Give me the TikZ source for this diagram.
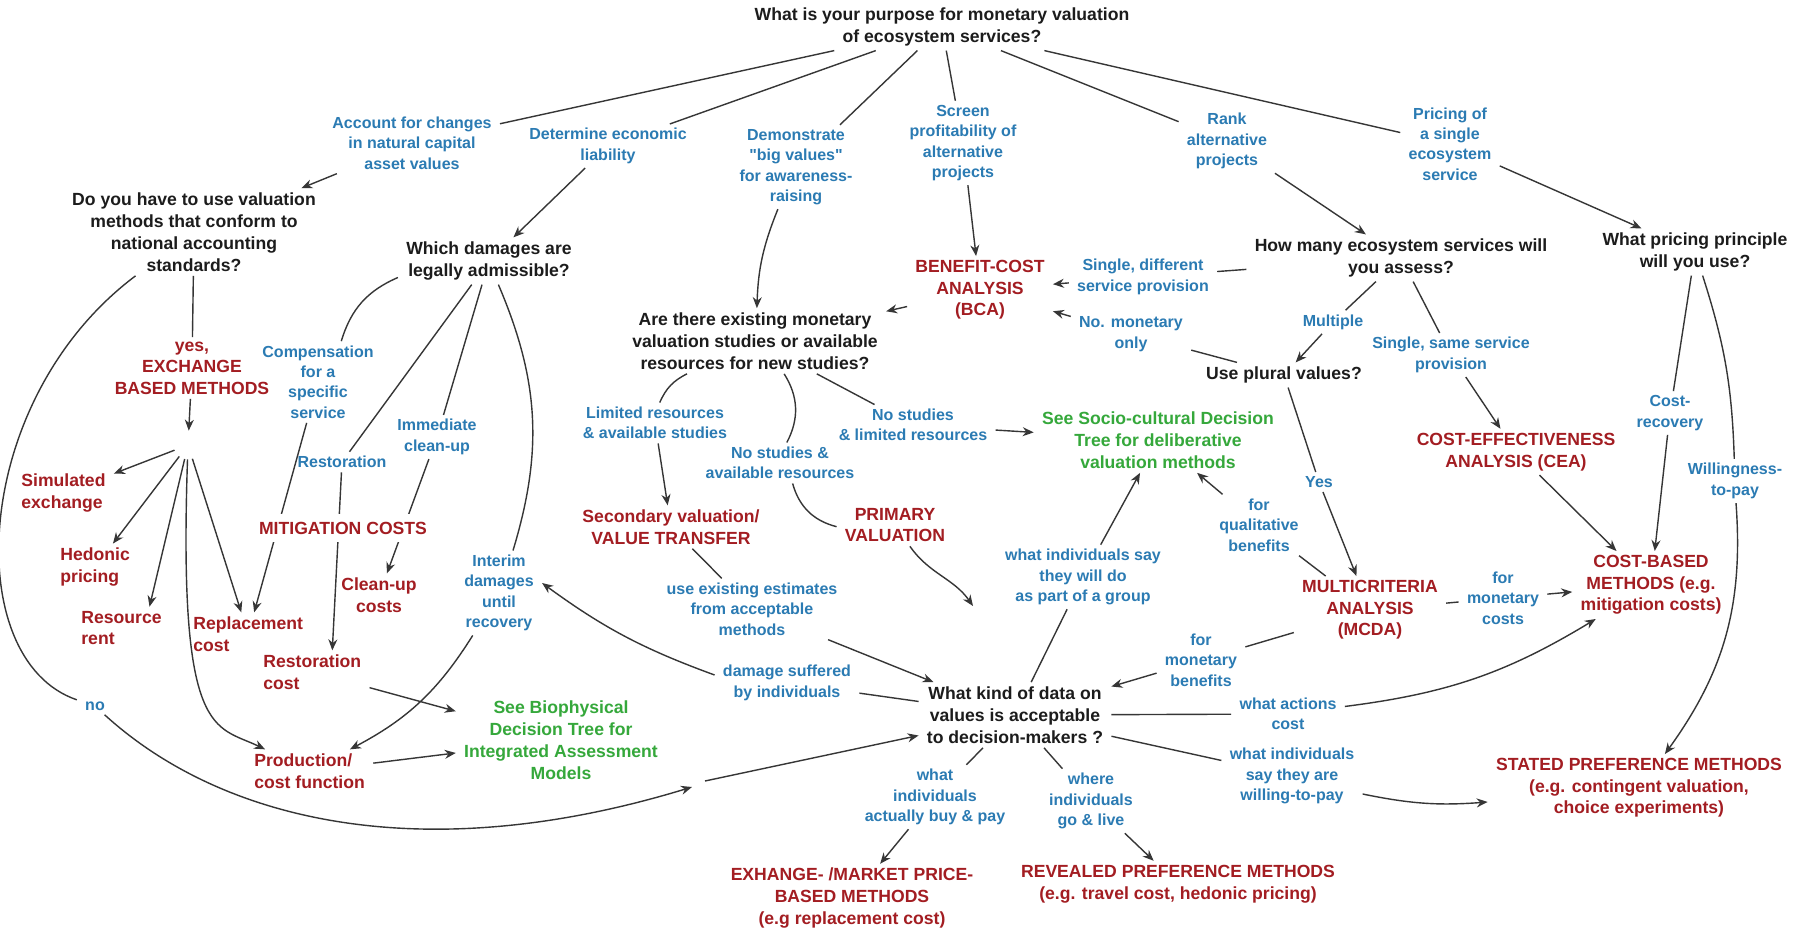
\documentclass[tikz,border=0pt]{standalone}
\usepackage{fontspec}
\newfontfamily\chartfont{Liberation Sans}
\usetikzlibrary{arrows.meta}

\definecolor{qblack}{HTML}{1C1C1C}
\definecolor{ansblue}{HTML}{2B7BB3}
\definecolor{methred}{HTML}{A31D22}
\definecolor{treegreen}{HTML}{35A83B}
\definecolor{linkgray}{HTML}{363636}

\begin{document}
\begin{tikzpicture}[
  x=0.5pt, y=-0.5pt,
  every node/.style={align=center, inner xsep=4pt, inner ysep=2pt},
  quest/.style={text=qblack, font=\chartfont\bfseries\fontsize{8.8}{11}\selectfont},
  answer/.style={text=ansblue, font=\chartfont\bfseries\fontsize{8}{10.2}\selectfont},
  method/.style={text=methred, font=\chartfont\bfseries\fontsize{8.8}{10.8}\selectfont},
  leftmethod/.style={method, align=left, anchor=west},
  seetree/.style={text=treegreen, font=\chartfont\bfseries\fontsize{8.8}{11}\selectfont},
  link/.style={draw=linkgray, line width=0.7pt},
  arrow/.style={link, -{Stealth[length=5.5pt, width=4.5pt]}}
]
\path[use as bounding box, fill=white] (0,0) rectangle (1806,931);

\node (q0) [quest] at (942,27) {What is your purpose for monetary valuation\\of ecosystem services?};
\node (acct) [answer] at (412,143) {Account for changes\\in natural capital\\asset values};
\node (liab) [answer] at (608,146) {Determine economic\\liability};
\node (bigval) [answer] at (796,167) {Demonstrate\\"big values"\\for awareness-\\raising};
\node (screen) [answer] at (963,143) {Screen\\profitability of\\alternative\\projects};
\node (rank) [answer] at (1227,141) {Rank\\alternative\\projects};
\node (pricing) [answer] at (1450,144) {Pricing of\\a single\\ecosystem\\service};

\node (qacc) [quest] at (194,232) {Do you have to use valuation\\methods that conform to\\national accounting\\standards?};
\node (qdmg) [quest] at (489,261) {Which damages are\\legally admissible?};
\node (qmany) [quest] at (1401,258) {How many ecosystem services will\\you assess?};
\node (qpricing) [quest] at (1695,252) {What pricing principle\\will you use?};

\node (bca) [method] at (980,290) {BENEFIT-COST\\ANALYSIS\\(BCA)};
\node (sdiff) [answer] at (1143,277) {Single, different\\service provision};
\node (qexist) [quest] at (755,341) {Are there existing monetary\\valuation studies or available\\resources for new studies?};
\node (nomon) [answer] at (1131,334) {No. monetary\\only};
\node (multi) [answer] at (1333,322) {Multiple};
\node (qplural) [quest] at (1284,375) {Use plural values?};
\node (ssame) [answer] at (1451,355) {Single, same service\\provision};
\node (costrec) [answer] at (1670,413) {Cost-\\recovery};
\node (wtp) [answer] at (1735,481) {Willingness-\\to-pay};
\node (cea) [method] at (1516,452) {COST-EFFECTIVENESS\\ANALYSIS (CEA)};
\node (cbm) [method] at (1651,585) {COST-BASED\\METHODS (e.g.\\mitigation costs)};
\node (formoncost) [answer] at (1503,598) {for\\monetary\\costs};
\node (mcda) [method] at (1370,610) {MULTICRITERIA\\ANALYSIS\\(MCDA)};
\node (yeslbl) [answer] at (1319,482) {Yes};
\node (qual) [answer] at (1259,525) {for\\qualitative\\benefits};
\node (socio) [seetree] at (1158,440) {See Socio-cultural Decision\\Tree for deliberative\\valuation methods};

\node (nostudlim) [answer] at (913,425) {No studies\\\& limited resources};
\node (limavail) [answer] at (655,423) {Limited resources\\\& available studies};
\node (nostudavail) [answer] at (780,463) {No studies \&\\available resources};
\node (secondary) [method] at (671,527) {Secondary valuation/\\VALUE TRANSFER};
\node (primary) [method] at (895,525) {PRIMARY\\VALUATION};
\node (useexist) [answer] at (752,609) {use existing estimates\\from acceptable\\methods};
\node (interim) [answer] at (499,593) {Interim\\damages\\until\\recovery};
\node (group) [answer] at (1083,577) {what individuals say\\they will do\\as part of a group};
\node (damage) [answer] at (787,683) {damage suffered\\by individuals};

\node (qdata) [quest] at (1015,715) {What kind of data on\\values is acceptable\\to decision-makers ?};
\node (formonben) [answer] at (1201,660) {for\\monetary\\benefits};
\node (actions) [answer] at (1288,714) {what actions\\cost};
\node (wtp2) [answer] at (1292,776) {what individuals\\say they are\\willing-to-pay};
\node (stated) [method] at (1639,788) {STATED PREFERENCE METHODS\\(e.g. contingent valuation,\\choice experiments)};
\node (buy) [answer] at (935,797) {what\\individuals\\actually buy \& pay};
\node (where) [answer] at (1091,801) {where\\individuals\\go \& live};
\node (revealed) [method] at (1178,884) {REVEALED PREFERENCE METHODS\\(e.g. travel cost, hedonic pricing)};
\node (exmarket) [method] at (852,898) {EXHANGE- /MARKET PRICE-\\BASED METHODS\\(e.g replacement cost)};
\node (biophys) [seetree] at (561,740) {See Biophysical\\Decision Tree for\\Integrated Assessment\\Models};

\node (yesexch) [method] at (192,368) {yes,\\EXCHANGE\\BASED METHODS};
\node (hub) [circle, minimum size=14pt, inner sep=0pt] at (188,445) {};
\node (simul) [leftmethod] at (13,493) {Simulated\\exchange};
\node (hedonic) [leftmethod] at (52,567) {Hedonic\\pricing};
\node (rent) [leftmethod] at (73,628) {Resource\\rent};
\node (repl) [leftmethod] at (185,634) {Replacement\\cost};
\node (restcost) [leftmethod] at (255,672) {Restoration\\cost};
\node (prod) [leftmethod] at (246,771) {Production/\\cost function};
\node (comp) [answer] at (318,382) {Compensation\\for a\\specific\\service};
\node (restlbl) [answer] at (342,462) {Restoration};
\node (immed) [answer] at (437,437) {Immediate\\clean-up};
\node (cleanup) [method] at (379,595) {Clean-up\\costs};
\node (nolbl) [answer] at (95,706) {no};

\coordinate (noend) at (692,787);
\coordinate (nostart) at (705,781);
\coordinate (primend) at (973,606);

\draw[link] (q0) -- (acct);
\draw[arrow] (acct) -- (qacc);
\draw[link] (q0) -- (liab);
\draw[arrow] (liab) -- (qdmg);
\draw[link] (q0) -- (bigval);
\draw[arrow] (bigval) to[bend right=10] (qexist);
\draw[link] (q0) -- (screen);
\draw[arrow] (screen) -- (bca);
\draw[link] (q0) -- (rank);
\draw[arrow] (rank) -- (qmany);
\draw[link] (q0) -- (pricing);
\draw[arrow] (pricing) -- (qpricing);

\draw[link] (qacc) -- (yesexch);
\draw[arrow] (yesexch) -- (hub);
\draw[arrow] (hub) -- (simul);
\draw[arrow] (hub) -- (hedonic);
\draw[arrow] (hub) -- ([xshift=14pt]rent.north);
\draw[arrow] (hub) -- (repl);
\draw[arrow] (hub) .. controls (178,740) and (215,725) .. (prod);
\draw[link] (qacc) .. controls (-30,400) and (-40,660) .. (nolbl);
\draw[arrow] (nolbl) .. controls (220,820) and (420,870) .. (noend);
\draw[arrow] (nostart) -- (qdata);

\draw[link] (qdmg) to[bend right=25] (comp);
\draw[arrow] (comp) -- (repl);
\draw[link] (qdmg) -- (restlbl);
\draw[arrow] (restlbl) -- ([xshift=10pt]restcost.north);
\draw[link] (qdmg) -- (immed);
\draw[arrow] (immed) -- (cleanup);
\draw[link] (qdmg) to[bend left=20] (interim);
\draw[arrow] (interim) to[bend left=15] (prod);
\draw[arrow] (restcost) -- (biophys);
\draw[arrow] (prod) -- (biophys);

\draw[arrow] (bca) -- (qexist);
\draw[link] ([xshift=-34pt]qexist.south) to[bend right=20] (limavail);
\draw[arrow] (limavail) -- (secondary);
\draw[link] (qexist) to[bend left=30] (nostudavail);
\draw[link] (nostudavail) to[bend right=30] (primary);
\draw[link] (qexist) -- (nostudlim);
\draw[arrow] (nostudlim) -- (socio);
\draw[link] (secondary) -- (useexist);
\draw[arrow] (useexist) -- (qdata);
\draw[arrow] (primary) to[out=-55, in=125] (primend);

\draw[link] (qmany) -- (sdiff);
\draw[arrow] (sdiff) -- (bca);
\draw[link] (qmany) -- (multi);
\draw[arrow] (multi) -- (qplural);
\draw[link] (qmany) -- (ssame);
\draw[arrow] (ssame) -- (cea);
\draw[link] (qplural) -- (nomon);
\draw[arrow] (nomon) -- (bca);
\draw[link] (qplural) -- (yeslbl);
\draw[arrow] (yeslbl) -- (mcda);
\draw[arrow] (cea) -- (cbm);
\draw[link] (qpricing) -- (costrec);
\draw[arrow] (costrec) -- (cbm);
\draw[link] (qpricing) to[bend left=8] (wtp);
\draw[arrow] (wtp) to[bend left=20] (stated);

\draw[link] (mcda) -- (qual);
\draw[arrow] (qual) -- (socio);
\draw[link] (mcda) -- (formonben);
\draw[arrow] (formonben) -- (qdata);
\draw[link] (mcda) -- (formoncost);
\draw[arrow] (formoncost) -- (cbm);

\draw[link] (qdata) -- (group);
\draw[arrow] (group) -- (socio);
\draw[link] (qdata) -- (damage);
\draw[arrow] ([yshift=4pt]damage.west) to[bend left=8] ([yshift=5pt]interim.east);
\draw[link] (qdata) -- (actions);
\draw[arrow] (actions) to[bend right=12] (cbm);
\draw[link] (qdata) -- (wtp2);
\draw[arrow] ([yshift=-9pt]wtp2.east) to[bend right=8] ([yshift=-7pt]stated.west);
\draw[link] (qdata) -- (buy);
\draw[arrow] (buy) -- (exmarket);
\draw[link] (qdata) -- (where);
\draw[arrow] (where) -- (revealed);

\node (mitig) [method, fill=white, inner ysep=4pt] at (343,528) {MITIGATION COSTS};

\end{tikzpicture}
\end{document}
